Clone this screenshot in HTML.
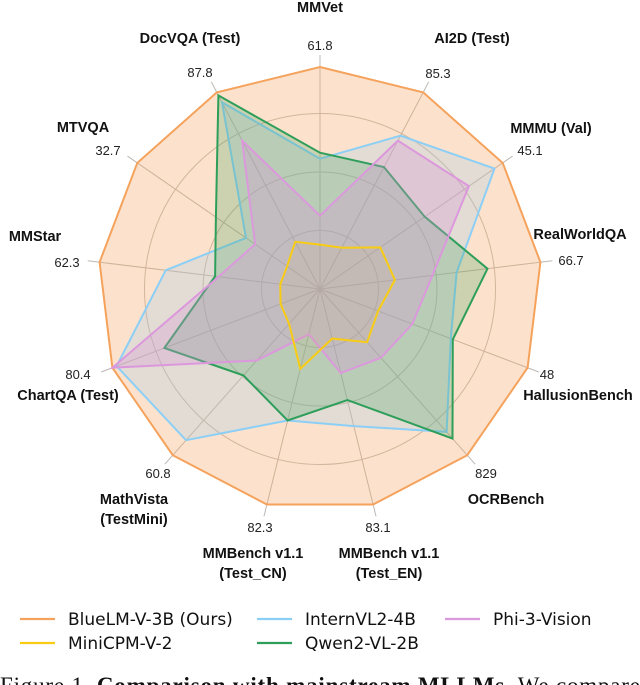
<!DOCTYPE html>
<html><head><meta charset="utf-8"><style>
html,body{margin:0;padding:0;background:#fff;}
body{width:640px;height:685px;overflow:hidden;position:relative;}
svg{position:absolute;left:0;top:0;}
</style></head><body>
<svg id="chart" width="640" height="685" xmlns="http://www.w3.org/2000/svg"></svg>
<script>
const categories = ["MMVet","AI2D (Test)","MMMU (Val)","RealWorldQA","HallusionBench","OCRBench","MMBench v1.1 (Test_EN)","MMBench v1.1 (Test_CN)","MathVista (TestMini)","ChartQA (Test)","MMStar","MTVQA","DocVQA (Test)"];
const maxLabels = ["61.8","85.3","45.1","66.7","48","829","83.1","82.3","60.8","80.4","62.3","32.7","87.8"];
const seriesNames = ["BlueLM-V-3B (Ours)","InternVL2-4B","Qwen2-VL-2B","Phi-3-Vision","MiniCPM-V-2"];
const blueLM   = [1,1,1,1,1,1,1,1,1,1,1,1,1];
const internVL = [0.587,0.78,0.955,0.62,0.63,0.86,0.636,0.61,0.91,0.98,0.70,0.405,0.95];
const qwen     = [0.614,0.62,0.573,0.76,0.64,0.90,0.515,0.61,0.52,0.75,0.476,0.57,0.985];
const phi      = [0.33,0.755,0.815,0.51,0.445,0.414,0.39,0.21,0.43,1.0,0.46,0.355,0.755];
const minicpm  = [0.20,0.21,0.33,0.34,0.28,0.32,0.23,0.37,0.21,0.19,0.18,0.18,0.24];

const NS="http://www.w3.org/2000/svg";
const svg=document.getElementById('chart');
const cx=320, cy=289, R=222, AX=234;
const N=categories.length;
function ang(i){return i*2*Math.PI/N;}
function pt(i,r){return [cx+r*Math.sin(ang(i)), cy-r*Math.cos(ang(i))];}
function mk(tag,attrs){const e=document.createElementNS(NS,tag);for(const k in attrs)e.setAttribute(k,attrs[k]);svg.appendChild(e);return e;}

[0.25,0.5,0.75].forEach((f,k)=>{
  const c=mk('circle',{cx:cx,cy:cy,r:AX*f,fill:'none',stroke:'#c2bdb8','stroke-width':1});
  
  
});
for(let i=0;i<N;i++){
  const p=pt(i,AX);
  const l=mk('line',{x1:cx,y1:cy,x2:p[0],y2:p[1],stroke:'#bdb8b3','stroke-width':1});
  
  
}
const styles=[
  {s:'#f5a25c',f:'rgba(247,165,95,0.32)'},
  {s:'#8ccff6',f:'rgba(150,205,240,0.25)'},
  {s:'#2e9e5b',f:'rgba(60,160,90,0.25)'},
  {s:'#dc98dc',f:'rgba(215,150,215,0.3)'},
  {s:'#f8cc14',f:'rgba(200,170,120,0.15)'}
];
const allSeries=[blueLM,internVL,qwen,phi,minicpm];
allSeries.forEach((vals,k)=>{
  const pts=vals.map((v,i)=>pt(i,v*R).map(n=>n.toFixed(1)).join(',')).join(' ');
  const pg=mk('polygon',{points:pts,fill:styles[k].f,stroke:styles[k].s,'stroke-width':2,'stroke-linejoin':'miter'});
  
  
});

const nameLayout=[[320,12],[472,43],[551,133],[580,239],[578,400],[506,504],[389,558],[253,558],[134,504],[68,400],[35,241],[83,132],[190,43]];
const valLayout=[[320,50],[438,78],[530,155],[571,265],[547,379],[486,478],[378,532],[260,532],[158,478],[78,379],[67,267],[108,155],[200,77]];
categories.forEach((c,i)=>{
  const lines=c.startsWith('MMBench')?[c.slice(0,12),c.slice(13)]:(c.startsWith('MathVista')?['MathVista','(TestMini)']:[c]);
  lines.forEach((ln,j)=>{
    const t=mk('text',{x:nameLayout[i][0],y:nameLayout[i][1]+j*20,'text-anchor':'middle','font-family':'"Liberation Sans",Arial,sans-serif','font-weight':'bold','font-size':'14.5',fill:'#111'});
    t.textContent=ln;
    
    
  });
  const v=mk('text',{x:valLayout[i][0],y:valLayout[i][1],'text-anchor':'middle','font-family':'"Liberation Sans",Arial,sans-serif','font-size':'13',fill:'#222'});
  v.textContent=maxLabels[i];
  
  
});

const legendMap=[[0,20,619],[1,257,619],[3,445,619],[4,20,643],[2,257,643]];
legendMap.forEach(([k,x,y])=>{
  const l=mk('line',{x1:x,y1:y,x2:x+35,y2:y,stroke:styles[k].s,'stroke-width':2.2});
  
  
  const t=mk('text',{x:x+48,y:y+6,'font-family':'"DejaVu Sans","Liberation Sans",sans-serif','font-size':'17',fill:'#111'});
  t.textContent=seriesNames[k];
  
  
});

const cap=mk('text',{x:0,y:693,'font-family':'"Liberation Serif",serif','font-size':'23',fill:'#111',textLength:'640',lengthAdjust:'spacing'});


cap.innerHTML='Figure 1. <tspan font-weight="bold">Comparison with mainstream MLLMs.</tspan> We compare';
</script>
</body></html>
